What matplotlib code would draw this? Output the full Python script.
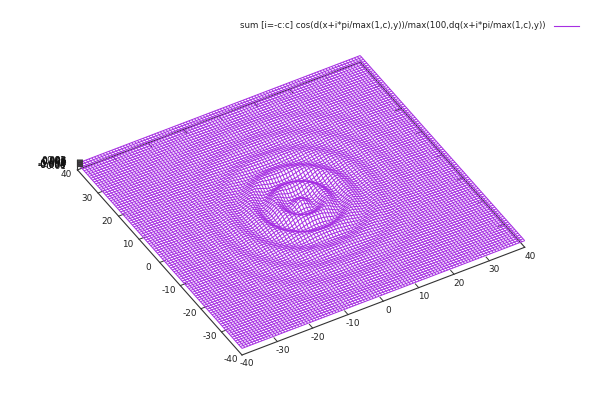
import numpy as np
import matplotlib
matplotlib.use("Agg")
import matplotlib.pyplot as plt
from mpl_toolkits.mplot3d import proj3d

# Values
legend_label = "sum [i=-c:c] cos(d(x+i*pi/max(1,c),y))/max(100,dq(x+i*pi/max(1,c),y))"
xy_ticks = [-40, -30, -20, -10, 0, 10, 20, 30, 40]
z_ticks = [-0.01, -0.008, -0.006, -0.004, -0.002, 0, 0.002, 0.004, 0.006, 0.008, 0.01]
z_tick_labels = ["-0.01", "-0.008", "-0.006", "-0.004", "-0.002", "0", "0.002", "0.004", "0.006", "0.008", "0.01"]
# Ripple height estimated per unit of distance from the centre of the sheet
ripple_radius = list(range(0, 41))
ripple_height = [0.0100, 0.0054, -0.0042, -0.0099, -0.0065, 0.0028, 0.0096, 0.0075, -0.0015, -0.0091,
                 -0.0084, 0.0000, 0.0059, 0.0054, 0.0007, -0.0034, -0.0037, -0.0010, 0.0020, 0.0027,
                 0.0010, -0.0012, -0.0021, -0.0010, 0.0007, 0.0016, 0.0010, -0.0004, -0.0012, -0.0009,
                 0.0002, 0.0010, 0.0008, 0.0000, -0.0007, -0.0007, -0.0001, 0.0006, 0.0007, 0.0002, -0.0004]
n_samples = 100
z_floor = -0.02

W, H = 602, 418
VIOLET = "#a62fe2"
AXC = "#333333"
FS = 6.4
fig = plt.figure(figsize=(W / 100, H / 100), dpi=100)
ax = fig.add_axes([0, 0, 1, 1], projection="3d", proj_type="ortho", computed_zorder=False)
ax.view_init(elev=40.9, azim=-120.2)
ax.set_xlim(-40, 40, view_margin=0)
ax.set_ylim(-40, 40, view_margin=0)
ax.set_zlim(z_floor, 0.01, view_margin=0)
ax.set_box_aspect((1, 1, 0.04))
ax.set_axis_off()
ax.patch.set_alpha(0)
fig.patch.set_facecolor("white")


def to_pixels(x, y, z):
    return ax.transData.transform(proj3d.proj_transform(x, y, z, ax.get_proj())[:2])


def place_axes(corner_a, pixel_a, corner_b, pixel_b):
    """Fit the square axes box so two base corners land on their reference pixels."""
    s, l, b = 1.0, 0.0, 0.0
    ta, tb = np.array(pixel_a, float), np.array(pixel_b, float)
    for _ in range(4):
        ax.set_position([l / W, b / H, s * 500 / W, s * 500 / H])
        ax.apply_aspect()
        pa, pb = to_pixels(*corner_a), to_pixels(*corner_b)
        s *= np.linalg.norm(tb - ta) / np.linalg.norm(pb - pa)
        ax.set_position([l / W, b / H, s * 500 / W, s * 500 / H])
        ax.apply_aspect()
        pa = to_pixels(*corner_a)
        l += ta[0] - pa[0]
        b += (H - ta[1]) - pa[1]
    ax.set_position([l / W, b / H, s * 500 / W, s * 500 / H])
    ax.apply_aspect()


place_axes((-40, -40, z_floor), (242, 355), (40, -40, z_floor), (525, 248))


def label(x, y, z, s, dx=0.0, dy=0.0, **kw):
    px = to_pixels(x, y, z)
    fig.text((px[0] + dx) / W, (px[1] + dy) / H, s, fontsize=FS, **kw)


# base frame, behind the sheet
for (x0, y0), (x1, y1) in [((-40, -40), (40, -40)), ((40, -40), (40, 40)), ((40, 40), (-40, 40)), ((-40, 40), (-40, -40))]:
    ax.plot([x0, x1], [y0, y1], [z_floor, z_floor], color=AXC, lw=0.8, zorder=1)
tick_len = 1.6
for t in xy_ticks[1:-1]:
    ax.plot([t, t], [-40, -40 + tick_len], [z_floor, z_floor], color=AXC, lw=0.7, zorder=1)
    ax.plot([t, t], [40, 40 - tick_len], [z_floor, z_floor], color=AXC, lw=0.7, zorder=1)
    ax.plot([-40, -40 + tick_len], [t, t], [z_floor, z_floor], color=AXC, lw=0.7, zorder=1)
    ax.plot([40, 40 - tick_len], [t, t], [z_floor, z_floor], color=AXC, lw=0.7, zorder=1)

# sheet
gx = np.linspace(-40, 40, n_samples)
X, Y = np.meshgrid(gx, gx)
Z = np.interp(np.hypot(X, Y), ripple_radius, ripple_height, right=0.0)
ax.plot_wireframe(X, Y, Z, rstride=1, cstride=1, color=VIOLET, lw=0.72, zorder=2)

# vertical axis at the left corner
ax.plot([-40, -40], [40, 40], [z_floor, 0.01], color=AXC, lw=0.8, zorder=3)
for z, lab in zip(z_ticks, z_tick_labels):
    ax.plot([-40, -40 + 1.06], [40, 40 - 0.61], [z, z], color=AXC, lw=0.7, zorder=3)
    label(-40, 40, z, lab, dx=-11, ha="right", va="center", color="#111111")

for artist in list(ax.lines) + list(ax.collections):
    artist.set_clip_on(False)

# tick labels
for t in xy_ticks:
    label(t, -40, z_floor, str(t), dx=5, dy=-9, ha="center", va="center", color="#222222")
    label(-40, t, z_floor, str(t), dx=-11.5, dy=-5, ha="center", va="center", color="#222222")

# legend, placed in figure pixels
fig.text(546 / W, 1 - 26 / H, legend_label, ha="right", va="center", fontsize=6.2, color="#222222")
fig.add_artist(plt.Line2D([554 / W, 579 / W], [1 - 26 / H, 1 - 26 / H], color=VIOLET, lw=0.8, transform=fig.transFigure))

fig.savefig("out.png", dpi=100)
